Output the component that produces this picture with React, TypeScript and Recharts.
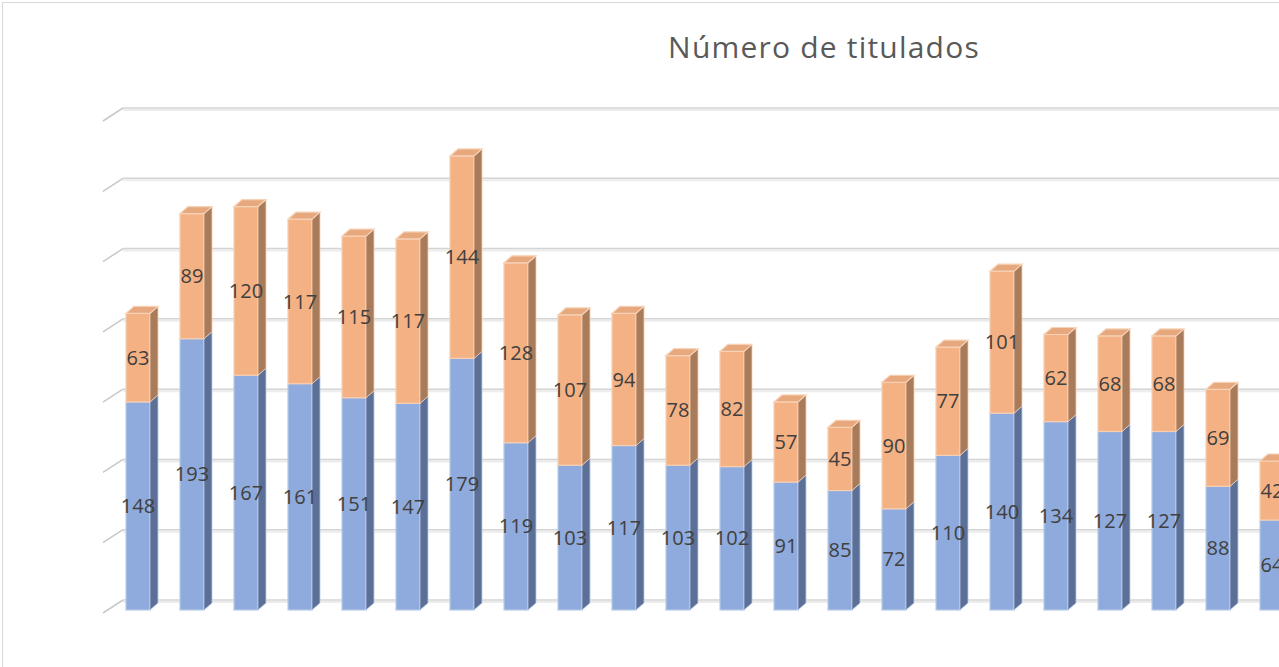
import React from "react";
import { BarChart, Bar, XAxis, YAxis, CartesianGrid, LabelList } from "recharts";

const categorias = ["1", "2", "3", "4", "5", "6", "7", "8", "9", "10", "11", "12", "13", "14", "15", "16", "17", "18", "19", "20", "21", "22"];
const serieAzul = [148, 193, 167, 161, 151, 147, 179, 119, 103, 117, 103, 102, 91, 85, 72, 110, 140, 134, 127, 127, 88, 64];
const serieNaranja = [63, 89, 120, 117, 115, 117, 144, 128, 107, 94, 78, 82, 57, 45, 90, 77, 101, 62, 68, 68, 69, 42];
const ticksY = [0, 50, 100, 150, 200, 250, 300, 350];

const data = categorias.map((c, i) => ({ cat: c, azul: serieAzul[i], naranja: serieNaranja[i] }));

const D = 8;

const Barra3D = (props: any) => {
    const { x, y, width, height, front, side, edge, conTapa } = props;
    if (!height || height <= 0) return null;
    const r = x + width;
    return (
        <g>
            <rect x={x} y={y} width={width} height={height} fill={front} stroke={edge} strokeWidth={1.2} />
            <polygon
                points={`${r},${y} ${r + D},${y - D + 1} ${r + D},${y + height - D + 1} ${r},${y + height}`}
                fill={side}
                stroke={edge}
                strokeWidth={0.8}
            />
            {conTapa && (
                <polygon
                    points={`${x},${y} ${r},${y} ${r + D},${y - D + 1} ${x + D},${y - D + 1}`}
                    fill="#e6a87c"
                    stroke="#f6d2b8"
                    strokeWidth={1.2}
                />
            )}
        </g>
    );
};

const LineaGrid = (props: any) => {
    const { x1, y1, x2 } = props;
    return (
        <g>
            <line x1={x1 - 8} y1={y1 + 3} x2={x1 + 12} y2={y1 - 10} stroke="#c8c8c8" strokeWidth={1.5} />
            <line x1={x1 + 12} y1={y1 - 8} x2={x2} y2={y1 - 8} stroke="#ececec" strokeWidth={2} />
            <line x1={x1 + 12} y1={y1 - 10} x2={x2} y2={y1 - 10} stroke="#d4d4d4" strokeWidth={1.5} />
        </g>
    );
};

export default function App() {
    return (
        <div style={{ position: "fixed", left: 0, top: 0, width: 1279, height: 667, overflow: "hidden", background: "#fff" }}>
            <div
                style={{
                    position: "absolute",
                    left: 2,
                    top: 2,
                    width: 1300,
                    height: 700,
                    borderLeft: "1.5px solid #d9d9d9",
                    borderTop: "1.5px solid #d9d9d9",
                }}
            />
            <div
                style={{
                    position: "absolute",
                    left: 624,
                    width: 400,
                    top: 26,
                    textAlign: "center",
                    fontFamily: "'Open Sans', sans-serif",
                    fontSize: 30,
                    letterSpacing: 1.2,
                    color: "#595959",
                }}
            >
                Número de titulados
            </div>
            <div style={{ position: "absolute", left: 0, top: 0 }}>
                <BarChart
                    width={1320}
                    height={667}
                    data={data}
                    margin={{ top: 118, right: 21, left: 111, bottom: 57 }}
                >
                    <CartesianGrid vertical={false} horizontal={(p: any) => <LineaGrid key={p.key} {...p} />} />
                    <XAxis dataKey="cat" hide />
                    <YAxis hide domain={[0, 350]} ticks={ticksY} />
                    <Bar
                        dataKey="azul"
                        stackId="a"
                        barSize={24}
                        isAnimationActive={false}
                        shape={(p: any) => <Barra3D {...p} front="#8faadc" side="#5b6f97" edge="#b8cbea" />}
                    >
                        <LabelList dataKey="azul" position="center" fill="#404040" fontSize={20} fontFamily="'Open Sans', sans-serif" />
                    </Bar>
                    <Bar
                        dataKey="naranja"
                        stackId="a"
                        barSize={24}
                        isAnimationActive={false}
                        shape={(p: any) => <Barra3D {...p} front="#f4b183" side="#a87b5a" edge="#f8cfb2" conTapa />}
                    >
                        <LabelList dataKey="naranja" position="center" fill="#404040" fontSize={20} fontFamily="'Open Sans', sans-serif" />
                    </Bar>
                </BarChart>
            </div>
        </div>
    );
}
